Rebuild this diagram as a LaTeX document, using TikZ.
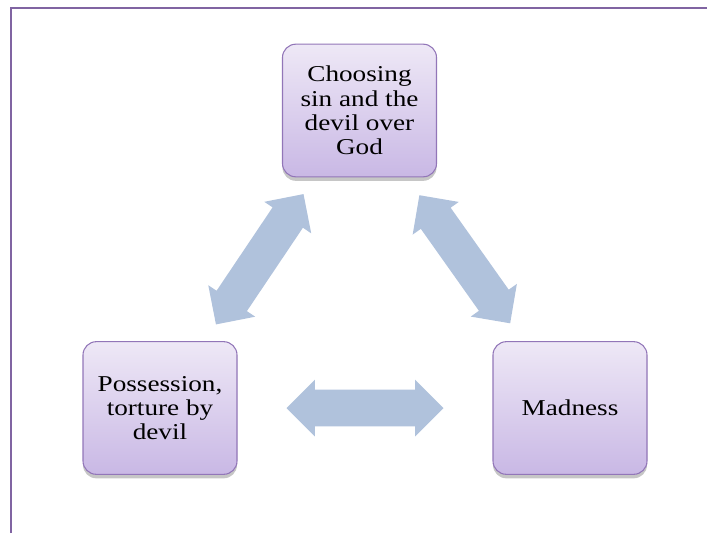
\documentclass[tikz,border=0pt]{standalone}
\usepackage{fontspec}
\setmainfont{Liberation Serif}[FakeStretch=1.2]
\usetikzlibrary{shapes.arrows,shadows}

\definecolor{framepurple}{RGB}{128,100,162}
\definecolor{boxtop}{RGB}{238,232,246}
\definecolor{boxbottom}{RGB}{201,184,229}
\definecolor{boxline}{RGB}{146,118,184}
\definecolor{arrowblue}{RGB}{176,194,220}

\begin{document}
\begin{tikzpicture}[x=0.75pt,y=-0.75pt]
  \useasboundingbox (0,0) rectangle (707,533);
  \draw[framepurple, line width=1.6pt] (11,533) -- (11,8) -- (707,8);

  \begin{scope}[every node/.style={rectangle, rounded corners=10pt, draw=boxline, thick,
      top color=boxtop, bottom color=boxbottom,
      minimum width=115.5pt, minimum height=99.5pt, align=center,
      font=\fontsize{17}{18.2}\selectfont,
      drop shadow={shadow xshift=0pt, shadow yshift=-3pt, opacity=.45}}]
    \node (choose) at (359.5,110.5) {Choosing\\sin and the\\devil over\\God};
    \node (possess) at (160,408) {Possession,\\torture by\\devil};
    \node (madness) at (570,408) {Madness};
  \end{scope}

  % block arrows between the boxes
  \begin{scope}[every node/.style={double arrow, fill=arrowblue,
      inner xsep=0pt, inner ysep=13.5pt, text height=0pt, text depth=0pt,
      minimum height=117.75pt, double arrow head extend=7.5pt, sloped}]
    \path (choose) -- node (cp) {} (possess);
    \path (choose) -- node (cm) {} (madness);
    \path (possess) -- node (pm) {} (madness);
  \end{scope}
\end{tikzpicture}
\end{document}
